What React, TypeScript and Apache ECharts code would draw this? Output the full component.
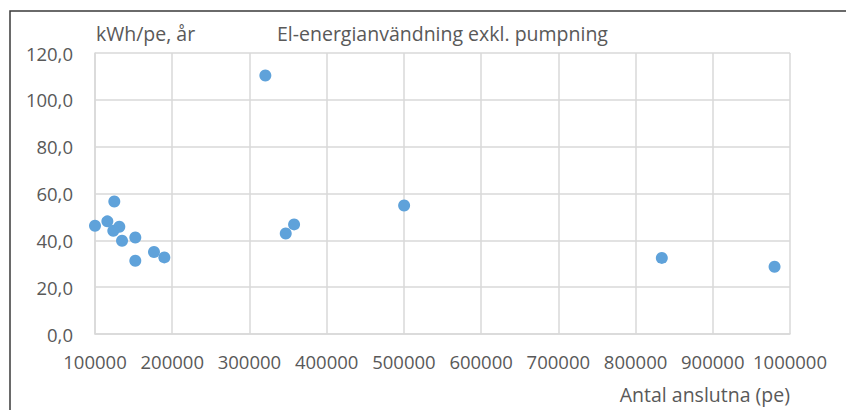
import React, { useEffect, useRef } from "react";
import * as echarts from "echarts";

const xValues: number[] = [100000, 116000, 125000, 131500, 123700, 135000, 152200, 152200, 176400, 189800, 320600, 357800, 347000, 500300, 834000, 980000];
const yValues: number[] = [46.2, 48.1, 56.6, 45.8, 44.1, 39.8, 41.2, 31.3, 35.0, 32.7, 110.4, 46.8, 42.9, 54.9, 32.5, 28.7];

const titleText = "El-energianvändning exkl. pumpning";
const yAxisTitle = "kWh/pe, år";
const xAxisTitle = "Antal anslutna (pe)";

const FONT = "'Open Sans', sans-serif";
const TEXT_COLOR = "#595959";
const GRID_COLOR = "#D9D9D9";

export default function App() {
  const ref = useRef<HTMLDivElement>(null);
  useEffect(() => {
    if (!ref.current) return;
    const chart = echarts.init(ref.current, null, { renderer: "svg" });
    const points = xValues.map((x, i) => [x, yValues[i]]);
    chart.setOption({
      animation: false,
      textStyle: { fontFamily: FONT },
      grid: { left: 95, right: 56, top: 53, bottom: 76, containLabel: false },
      xAxis: {
        type: "value",
        min: 100000,
        max: 1000000,
        interval: 100000,
        axisLine: { show: true, lineStyle: { color: GRID_COLOR, width: 1.5 } },
        axisTick: { show: false },
        splitLine: { show: true, lineStyle: { color: GRID_COLOR, width: 1.5 } },
        axisLabel: {
          color: TEXT_COLOR,
          fontSize: 18.5,
          fontFamily: FONT,
          margin: 18,
          showMaxLabel: true,
          showMinLabel: true,
          formatter: (v: number) => String(Math.round(v)),
        },
      },
      yAxis: {
        type: "value",
        min: 0,
        max: 120,
        interval: 20,
        axisLine: { show: true, lineStyle: { color: GRID_COLOR, width: 1.5 } },
        axisTick: { show: false },
        splitLine: { show: true, lineStyle: { color: GRID_COLOR, width: 1.5 } },
        axisLabel: {
          color: TEXT_COLOR,
          fontSize: 18.5,
          fontFamily: FONT,
          margin: 22,
          formatter: (v: number) => v.toFixed(1).replace(".", ","),
        },
      },
      graphic: [
        {
          type: "rect",
          silent: true,
          shape: { x: 10, y: 11, width: 1000, height: 1000 },
          style: { fill: "none", stroke: "#3a3a3a", lineWidth: 1.5 },
        },
        {
          type: "text",
          x: 96,
          y: 33,
          style: { text: yAxisTitle, fill: TEXT_COLOR, font: `19.5px ${FONT}`, align: "left", verticalAlign: "middle" },
        },
        {
          type: "text",
          x: 277,
          y: 33,
          style: { text: titleText, fill: TEXT_COLOR, font: `19.5px ${FONT}`, align: "left", verticalAlign: "middle" },
        },
        {
          type: "text",
          x: 790,
          y: 394,
          style: { text: xAxisTitle, fill: TEXT_COLOR, font: `19.5px ${FONT}`, align: "right", verticalAlign: "middle" },
        },
      ],
      series: [
        {
          type: "scatter",
          data: points,
          symbol: "circle",
          symbolSize: 12,
          itemStyle: { color: "#5FA2DA", opacity: 1 },
        },
      ],
    });
    return () => chart.dispose();
  }, []);
  return (
    <div
      ref={ref}
      style={{ position: "fixed", left: 0, top: 0, width: 846, height: 410, background: "#ffffff" }}
    />
  );
}
